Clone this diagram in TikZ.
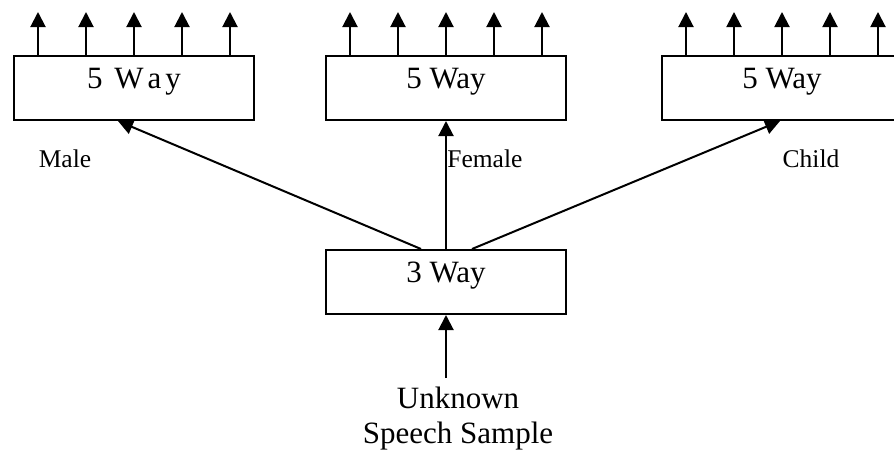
\documentclass[tikz,border=0pt]{standalone}
\usepackage{fontspec}
\setmainfont{Liberation Serif}
\usetikzlibrary{arrows.meta}
\begin{document}
\begin{tikzpicture}[x=0.5pt,y=-0.5pt,
  box/.style={draw,line width=1pt,minimum width=120pt,minimum height=32pt,inner sep=0pt,
    text height=16pt,text depth=16pt,font=\fontsize{15.5}{18}\selectfont},
  lbl/.style={inner sep=0pt,anchor=base,font=\fontsize{12.75}{15}\selectfont},
  arr/.style={line width=1pt,-{Triangle[length=7.5pt,width=7.5pt]}}]
\useasboundingbox (0,0) rectangle (894,451);
\clip (0,0) rectangle (894,451);
% boxes
\node[box] (b1) at (134,88) {5\hspace{2pt} W\hspace{2pt}a\hspace{2pt}y};
\node[box] (b2) at (446,88) {5 Way};
\node[box] (b3) at (782,88) {5 Way};
\node[box] (tb) at (446,282) {3 Way};
% output arrows
\foreach \b in {b1,b2,b3}{
  \foreach \d in {-96,-48,0,48,96}{
    \draw[arr] ([xshift=\d*0.5pt]\b.north) -- ++(0,-43);
  }
}
% labels
\node[lbl] (male) at (65,167) {Male};
\node[lbl,anchor=base west] (female) at (447,167) {Female};
\node[lbl] (child) at (811,167) {Child};
% source
\node[inner sep=4pt,anchor=base,font=\fontsize{15.5}{18}\selectfont] (src) at (458,408) {Unknown};
\node[inner sep=0pt,anchor=base,font=\fontsize{15.5}{18}\selectfont] (src2) at (458,443) {Speech Sample};
% connectors
\draw[arr] (tb.south |- src.north) -- (tb.south);
\draw[arr] ([xshift=-12.5pt]tb.north) -- ([xshift=-8pt]b1.south);
\draw[arr] (tb.north) -- (b2.south);
\draw[arr] ([xshift=13pt]tb.north) -- ([xshift=-1pt]b3.south);
\end{tikzpicture}
\end{document}
